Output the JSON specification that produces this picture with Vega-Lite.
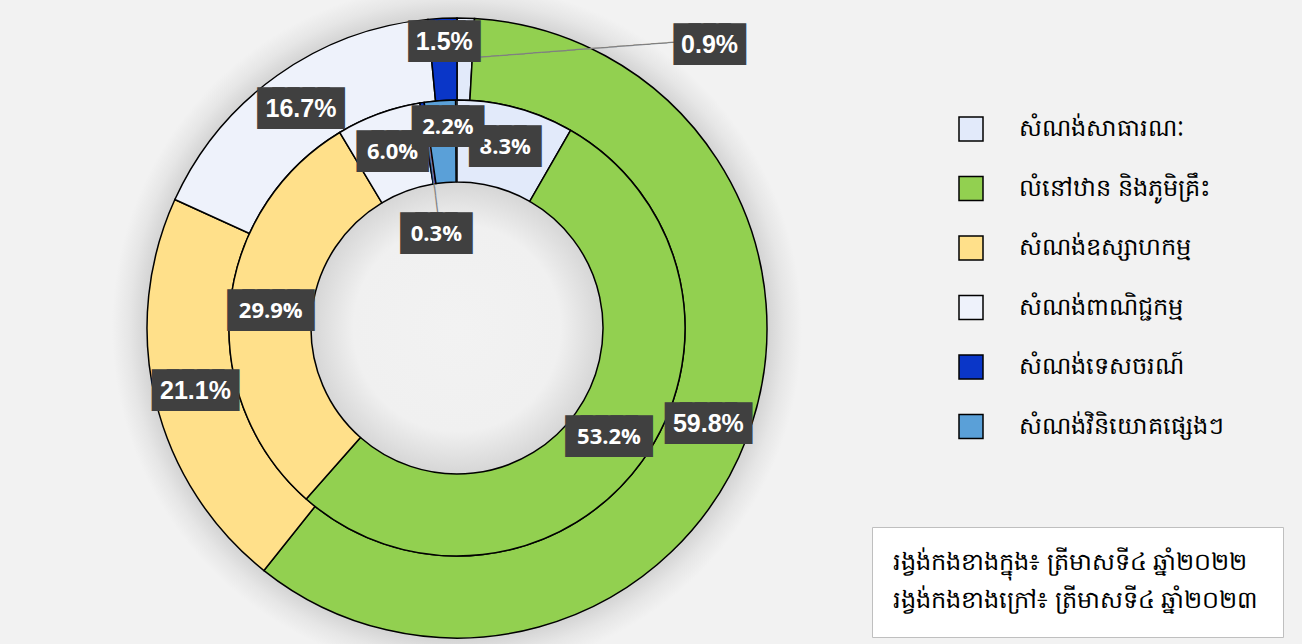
{
  "$schema": "https://vega.github.io/schema/vega-lite/v6.json",
  "width": 914,
  "height": 632,
  "autosize": {"type": "none"},
  "padding": {"left": 0, "top": 12, "right": 388, "bottom": 0},
  "background": "#f2f2f2",
  "config": {"view": {"stroke": null}},
  "data": {
    "values": [
      {"r": "in", "k": 1, "c": "សំណង់សាធារណៈ", "v": 0.083},
      {"r": "in", "k": 2, "c": "លំនៅឋាន និងភូមិគ្រឹះ", "v": 0.532},
      {"r": "in", "k": 3, "c": "សំណង់ឧស្សាហកម្ម", "v": 0.299},
      {"r": "in", "k": 4, "c": "សំណង់ពាណិជ្ជកម្ម", "v": 0.060},
      {"r": "in", "k": 5, "c": "សំណង់ទេសចរណ៍", "v": 0.003},
      {"r": "in", "k": 6, "c": "សំណង់វិនិយោគផ្សេងៗ", "v": 0.022},
      {"r": "out", "k": 1, "c": "សំណង់សាធារណៈ", "v": 0.009},
      {"r": "out", "k": 2, "c": "លំនៅឋាន និងភូមិគ្រឹះ", "v": 0.598},
      {"r": "out", "k": 3, "c": "សំណង់ឧស្សាហកម្ម", "v": 0.211},
      {"r": "out", "k": 4, "c": "សំណង់ពាណិជ្ជកម្ម", "v": 0.167},
      {"r": "out", "k": 5, "c": "សំណង់ទេសចរណ៍", "v": 0.015}
    ]
  },
  "encoding": {
    "theta": {"field": "v", "type": "quantitative", "stack": true},
    "order": {"field": "k", "type": "quantitative"}
  },
  "layer": [
    {
      "transform": [{"filter": "datum.r == 'out' && datum.k == 2"}],
      "mark": {
        "type": "arc", "outerRadius": 345, "innerRadius": 0,
        "fill": {
          "gradient": "radial", "x1": 0.5, "y1": 0.5, "x2": 0.5, "y2": 0.5, "r1": 0, "r2": 0.5,
          "stops": [
            {"offset": 0, "color": "#f2f2f2"},
            {"offset": 0.3, "color": "#f0f0f0"},
            {"offset": 0.423, "color": "#d6d6d6"},
            {"offset": 0.9, "color": "#d4d4d4"},
            {"offset": 0.95, "color": "#e6e6e6"},
            {"offset": 1, "color": "#f2f2f2"}
          ]
        }
      },
      "encoding": {"theta": {"value": 0}, "theta2": {"value": 6.2832}}
    },
    {
      "transform": [{"filter": "datum.r == 'out'"}],
      "mark": {"type": "arc", "outerRadius": 310, "innerRadius": 228, "stroke": "#000000", "strokeWidth": 1.5},
      "encoding": {
        "color": {
          "field": "c", "type": "nominal",
          "scale": {
            "domain": ["សំណង់សាធារណៈ", "លំនៅឋាន និងភូមិគ្រឹះ", "សំណង់ឧស្សាហកម្ម", "សំណង់ពាណិជ្ជកម្ម", "សំណង់ទេសចរណ៍", "សំណង់វិនិយោគផ្សេងៗ"],
            "range": ["#E2EAFA", "#92D050", "#FFE08A", "#EEF2FB", "#0A36C8", "#5AA0D8"]
          },
          "legend": {
            "title": null, "orient": "none", "legendX": 958, "legendY": 104,
            "symbolType": "square", "symbolSize": 576, "symbolStrokeColor": "#000000", "symbolStrokeWidth": 1.5,
            "labelFontSize": 24, "labelColor": "#000000", "labelOffset": 35, "rowPadding": 29.5, "labelLimit": 400
          }
        },
        "opacity": {
          "field": "r", "type": "nominal",
          "scale": {"domain": ["in", "out"], "range": [1, 1]},
          "legend": {
            "title": null, "orient": "none", "legendX": 872, "legendY": 515,
            "fillColor": "#ffffff", "strokeColor": "#bfbfbf", "padding": 24,
            "symbolSize": 0, "symbolOpacity": 0, "symbolStrokeWidth": 0, "labelOffset": -27,
            "labelFontSize": 24, "labelColor": "#000000", "labelLimit": 600, "rowPadding": 14,
            "labelExpr": "datum.label == 'in' ? 'រង្វង់កងខាងក្នុង៖ ត្រីមាសទី៤ ឆ្នាំ២០២២' : 'រង្វង់កងខាងក្រៅ៖ ត្រីមាសទី៤ ឆ្នាំ២០២៣'"
          }
        }
      }
    },
    {
      "transform": [{"filter": "datum.r == 'in'"}],
      "mark": {"type": "arc", "outerRadius": 228, "innerRadius": 146, "stroke": "#000000", "strokeWidth": 1.5},
      "encoding": {
        "color": {"field": "c", "type": "nominal"},
        "opacity": {"field": "r", "type": "nominal"}
      }
    },
    {
      "transform": [{"filter": "datum.r == 'out'"}],
      "mark": {"type": "text", "radius": 269, "angle": -4.4, "dx": 110.7, "dy": 0, "font": "DejaVu Sans Mono", "fontSize": 14, "fill": "#808080", "align": "center", "baseline": "middle"},
      "encoding": {"text": {"condition": {"test": "datum.k == 1", "value": "────────────────────────"}, "value": ""}}
    },
    {
      "transform": [{"filter": "datum.r == 'in'"}],
      "mark": {"type": "text", "radius": 187, "angle": 82.6, "dx": 36, "dy": 0.4, "font": "DejaVu Sans Mono", "fontSize": 14, "fill": "#808080", "align": "center", "baseline": "middle"},
      "encoding": {"text": {"condition": {"test": "datum.k == 5", "value": "────────"}, "value": ""}}
    },
    {
      "transform": [{"filter": "datum.r == 'out'"}],
      "mark": {"type": "text", "radius": 269, "font": "DejaVu Sans Mono", "fontSize": 25, "fill": "#404040", "stroke": "#404040", "strokeWidth": 12, "align": "center", "baseline": "middle"},
      "encoding": {"text": {"condition": [{"test": "datum.k == 1 || datum.k == 5", "value": ""}, {"test": "datum.v >= 0.1", "value": "█████"}], "value": "████"}}
    },
    {
      "transform": [{"filter": "datum.r == 'out'"}],
      "mark": {"type": "text", "radius": 269, "font": "Liberation Sans", "fontSize": 25, "fontWeight": "bold", "fill": "#ffffff", "align": "center", "baseline": "middle"},
      "encoding": {"text": {"field": "v", "type": "quantitative", "format": ".1%", "condition": {"test": "datum.k == 1 || datum.k == 5", "value": ""}}}
    },
    {
      "transform": [{"filter": "datum.r == 'in'"}],
      "mark": {"type": "text", "radius": 187, "font": "DejaVu Sans Mono", "fontSize": 25, "fill": "#404040", "stroke": "#404040", "strokeWidth": 12, "align": "center", "baseline": "middle"},
      "encoding": {"text": {"condition": [{"test": "datum.k == 5 || datum.k == 6", "value": ""}, {"test": "datum.v >= 0.1", "value": "█████"}], "value": "████"}}
    },
    {
      "transform": [{"filter": "datum.r == 'in'"}],
      "mark": {"type": "text", "radius": 187, "font": "Open Sans", "fontSize": 22, "fontWeight": "bold", "fill": "#ffffff", "align": "center", "baseline": "middle"},
      "encoding": {"text": {"field": "v", "type": "quantitative", "format": ".1%", "condition": {"test": "datum.k == 5 || datum.k == 6", "value": ""}}}
    },
    {
      "transform": [{"filter": "datum.r == 'out'"}],
      "mark": {"type": "text", "radius": 269, "dy": -17, "font": "DejaVu Sans Mono", "fontSize": 25, "fill": "#404040", "stroke": "#404040", "strokeWidth": 12, "align": "center", "baseline": "middle"},
      "encoding": {"text": {"condition": {"test": "datum.k == 5", "value": "████"}, "value": ""}}
    },
    {
      "transform": [{"filter": "datum.r == 'out'"}],
      "mark": {"type": "text", "radius": 269, "dy": -17, "font": "Liberation Sans", "fontSize": 25, "fontWeight": "bold", "fill": "#ffffff", "align": "center", "baseline": "middle"},
      "encoding": {"text": {"condition": {"test": "datum.k == 5", "field": "v", "type": "quantitative", "format": ".1%"}, "value": ""}}
    },
    {
      "transform": [{"filter": "datum.r == 'out'"}],
      "mark": {"type": "text", "radius": 269, "dx": 245, "dy": -14, "font": "DejaVu Sans Mono", "fontSize": 25, "fill": "#404040", "stroke": "#404040", "strokeWidth": 12, "align": "center", "baseline": "middle"},
      "encoding": {"text": {"condition": {"test": "datum.k == 1", "value": "████"}, "value": ""}}
    },
    {
      "transform": [{"filter": "datum.r == 'out'"}],
      "mark": {"type": "text", "radius": 269, "dx": 245, "dy": -14, "font": "Liberation Sans", "fontSize": 25, "fontWeight": "bold", "fill": "#ffffff", "align": "center", "baseline": "middle"},
      "encoding": {"text": {"condition": {"test": "datum.k == 1", "field": "v", "type": "quantitative", "format": ".1%"}, "value": ""}}
    },
    {
      "transform": [{"filter": "datum.r == 'in'"}],
      "mark": {"type": "text", "radius": 187, "dx": 8, "dy": 91, "font": "DejaVu Sans Mono", "fontSize": 25, "fill": "#404040", "stroke": "#404040", "strokeWidth": 12, "align": "center", "baseline": "middle"},
      "encoding": {"text": {"condition": {"test": "datum.k == 5", "value": "████"}, "value": ""}}
    },
    {
      "transform": [{"filter": "datum.r == 'in'"}],
      "mark": {"type": "text", "radius": 187, "dx": 8, "dy": 91, "font": "Open Sans", "fontSize": 22, "fontWeight": "bold", "fill": "#ffffff", "align": "center", "baseline": "middle"},
      "encoding": {"text": {"condition": {"test": "datum.k == 5", "field": "v", "type": "quantitative", "format": ".1%"}, "value": ""}}
    },
    {
      "transform": [{"filter": "datum.r == 'in'"}],
      "mark": {"type": "text", "radius": 187, "dx": 5, "dy": -15, "font": "DejaVu Sans Mono", "fontSize": 25, "fill": "#404040", "stroke": "#404040", "strokeWidth": 12, "align": "center", "baseline": "middle"},
      "encoding": {"text": {"condition": {"test": "datum.k == 6", "value": "████"}, "value": ""}}
    },
    {
      "transform": [{"filter": "datum.r == 'in'"}],
      "mark": {"type": "text", "radius": 187, "dx": 5, "dy": -15, "font": "Open Sans", "fontSize": 22, "fontWeight": "bold", "fill": "#ffffff", "align": "center", "baseline": "middle"},
      "encoding": {"text": {"condition": {"test": "datum.k == 6", "field": "v", "type": "quantitative", "format": ".1%"}, "value": ""}}
    }
  ]
}
